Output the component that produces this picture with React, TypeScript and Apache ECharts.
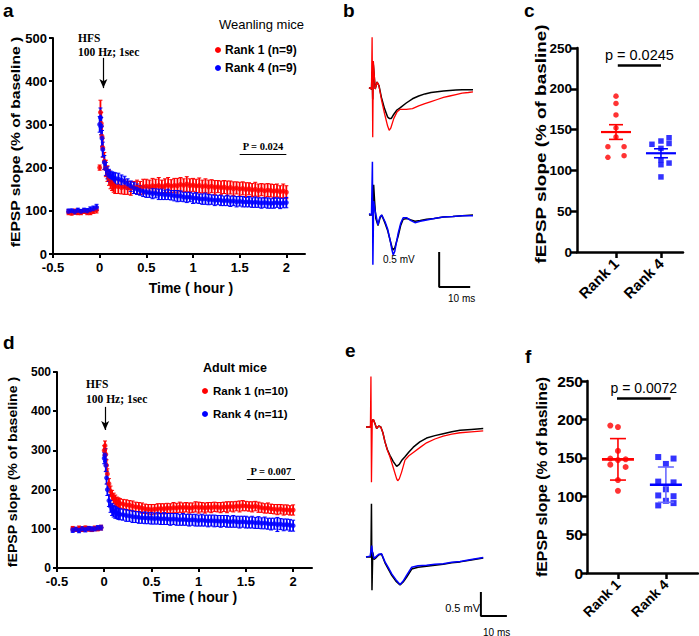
import React, { useEffect, useRef } from 'react';
import * as echarts from 'echarts';

const SANS = '"Liberation Sans", Arial, sans-serif';
const SERIF = '"Liberation Serif", "Times New Roman", serif';
const RED = '#ff0000';
const BLUE = '#0000ff';
const BLACK = '#000000';

// ---------- time-course panels (a, d) ----------
const HOUR_TICKS = [-0.5, 0, 0.5, 1, 1.5, 2];
const TIME_MIN = [
  -20, -18, -16, -14, -12, -10, -8, -6, -4, -2,
  0, 0.5, 1, 1.5, 2, 3, 4, 5, 6, 7, 8, 9, 10,
  12, 14, 16, 18, 20, 22, 24, 26, 28, 30,
  32, 34, 36, 38, 40, 42, 44, 46, 48, 50,
  52, 54, 56, 58, 60, 62, 64, 66, 68, 70,
  72, 74, 76, 78, 80, 82, 84, 86, 88, 90,
  92, 94, 96, 98, 100, 102, 104, 106, 108, 110,
  112, 114, 116, 118, 120,
];
const A_RANK1 = [
  97, 95, 98, 96, 97, 99, 97, 96, 100, 102,
  200, 328, 302, 272, 246, 215, 198, 186, 176, 168, 163, 159, 156,
  156, 154, 155, 153, 152, 154, 155, 153, 156, 157,
  156, 158, 157, 159, 156, 158, 160, 157, 159, 158,
  161, 159, 162, 158, 160, 157, 159, 156, 158, 155,
  157, 154, 156, 153, 155, 152, 154, 151, 153, 150,
  152, 149, 151, 148, 150, 147, 149, 146, 148, 147,
  145, 147, 144, 146, 143,
];
const A_RANK1_ERR = [
  6, 5, 6, 5, 6, 5, 6, 5, 6, 7,
  6, 28, 26, 24, 22, 20, 19, 18, 17, 17, 16, 16, 16,
  16, 15, 17, 15, 16, 14, 16, 15, 17, 16,
  15, 17, 16, 18, 15, 16, 17, 15, 16, 17,
  16, 15, 17, 16, 15, 16, 17, 15, 16, 16,
  15, 16, 14, 16, 15, 17, 15, 16, 14, 16,
  15, 16, 14, 15, 16, 15, 14, 16, 15, 15,
  16, 15, 14, 16, 15,
];
const A_RANK4 = [
  99, 100, 98, 101, 99, 101, 100, 103, 105, 108,
  300, 316, 296, 268, 242, 212, 197, 188, 182, 179, 177, 176, 175,
  174, 171, 167, 162, 157, 153, 150, 147, 145, 143,
  142, 140, 141, 138, 139, 137, 138, 136, 135, 134,
  134, 132, 131, 132, 129, 130, 128, 127, 128, 126,
  126, 124, 125, 124, 123, 124, 122, 123, 121, 122,
  121, 120, 121, 119, 120, 119, 118, 119, 118, 117,
  118, 119, 117, 118, 119,
];
const A_RANK4_ERR = [
  5, 4, 5, 5, 4, 5, 5, 6, 6, 7,
  18, 22, 20, 18, 17, 16, 15, 14, 14, 13, 13, 13, 13,
  13, 12, 13, 12, 12, 13, 12, 11, 12, 12,
  11, 12, 11, 12, 13, 11, 12, 11, 12, 13,
  12, 11, 12, 11, 12, 12, 11, 12, 13, 12,
  11, 12, 11, 12, 11, 12, 12, 11, 12, 11,
  12, 11, 12, 11, 12, 11, 12, 11, 12, 11,
  12, 11, 12, 11, 12,
];
const D_RANK1 = [
  100, 98, 101, 99, 102, 100, 98, 101, 100, 103,
  300, 312, 290, 262, 240, 215, 196, 185, 178, 173, 169, 167, 165,
  163, 161, 160, 158, 156, 155, 153, 151, 150, 149,
  150, 151, 152, 151, 153, 152, 154, 153, 155, 154,
  155, 153, 154, 156, 154, 155, 153, 155, 154, 156,
  155, 154, 156, 155, 157, 156, 158, 157, 159, 158,
  157, 156, 158, 155, 154, 152, 153, 151, 150, 149,
  150, 148, 149, 147, 148,
];
const D_RANK1_ERR = [
  6, 5, 6, 6, 5, 6, 5, 6, 5, 6,
  12, 12, 14, 14, 13, 13, 13, 13, 13, 13, 12, 12, 12,
  12, 13, 12, 13, 12, 12, 13, 12, 12, 13,
  12, 13, 12, 13, 12, 12, 13, 12, 13, 12,
  12, 13, 12, 13, 14, 12, 13, 12, 13, 12,
  12, 13, 12, 14, 12, 13, 12, 14, 13, 12,
  12, 13, 12, 13, 12, 12, 13, 12, 12, 13,
  12, 13, 12, 12, 13,
];
const D_RANK4 = [
  97, 99, 96, 100, 98, 101, 99, 100, 102, 103,
  280, 288, 262, 230, 200, 172, 157, 149, 145, 142, 140, 138, 137,
  136, 134, 133, 131, 130, 129, 128, 128, 127, 127,
  126, 127, 125, 126, 125, 124, 125, 124, 123, 124,
  123, 122, 123, 122, 121, 122, 121, 120, 121, 120,
  120, 119, 120, 119, 118, 119, 118, 117, 118, 117,
  116, 117, 115, 116, 114, 115, 113, 112, 113, 111,
  112, 110, 111, 109, 108,
];
const D_RANK4_ERR = [
  6, 5, 6, 5, 6, 5, 6, 5, 6, 6,
  14, 16, 16, 16, 15, 15, 15, 15, 15, 15, 14, 14, 14,
  14, 15, 14, 15, 14, 15, 14, 15, 14, 15,
  14, 15, 14, 15, 14, 15, 14, 15, 14, 15,
  14, 15, 14, 15, 14, 15, 14, 15, 14, 15,
  14, 15, 14, 15, 14, 15, 14, 15, 14, 15,
  14, 15, 14, 15, 14, 15, 14, 15, 14, 18,
  14, 15, 14, 15, 14,
];

// ---------- example traces (b, e): [ms, mV] ----------
const B_TOP_BLACK = [[0, 0.02], [0.8, 0], [1.0, 0.25], [1.2, -0.15], [1.4, 0.35], [2.0, 0], [2.6, 0.1], [3.2, 0.05], [4, -0.12], [5, -0.28], [6, -0.4], [6.5, -0.42], [7.2, -0.42], [8, -0.36], [9, -0.3], [10, -0.27], [12, -0.2], [14, -0.14], [16, -0.1], [18, -0.07], [20, -0.05], [22, -0.04], [24, -0.03], [26, -0.02], [28, -0.015], [30, -0.01], [32, -0.01], [33.5, -0.01]];
const B_TOP_RED = [[0, 0.02], [0.8, 0], [1.0, 0.74], [1.2, -0.69], [1.4, 0.4], [2.0, 0], [2.6, 0.1], [3.2, 0.05], [4, -0.15], [5, -0.35], [6, -0.53], [6.5, -0.59], [7, -0.56], [8, -0.42], [9, -0.33], [10, -0.29], [12, -0.29], [14, -0.28], [16, -0.24], [18, -0.21], [20, -0.18], [22, -0.15], [24, -0.12], [26, -0.1], [28, -0.08], [30, -0.06], [32, -0.05], [33.5, -0.04]];
const B_BOT_BLACK = [[0, 0], [0.8, 0], [1.2, 0.1], [1.5, 0.43], [1.8, 0.2], [2.2, -0.05], [2.9, -0.15], [3.5, -0.05], [4.1, 0], [5.2, -0.12], [6, -0.22], [6.8, -0.36], [7.4, -0.46], [7.8, -0.5], [8.3, -0.47], [9.4, -0.3], [10.2, -0.15], [11, -0.06], [12.2, -0.05], [13.5, -0.07], [14.8, -0.09], [16.5, -0.08], [18.6, -0.06], [21, -0.05], [23.9, -0.03], [27, -0.02], [30, -0.01], [33.5, 0]];
const B_BOT_BLUE = [[0, 0.02], [0.8, 0], [1.1, 0.76], [1.25, -0.71], [1.5, 0.2], [2.0, 0.05], [2.9, -0.14], [3.5, -0.03], [4.1, 0], [5.2, -0.1], [6, -0.2], [6.8, -0.36], [7.4, -0.5], [7.8, -0.57], [8.3, -0.52], [9.4, -0.26], [10.2, -0.12], [11, -0.04], [12.2, -0.04], [13.5, -0.08], [14.8, -0.11], [16.5, -0.09], [18.6, -0.07], [21, -0.05], [23.9, -0.03], [27, -0.02], [30, -0.01], [33.5, -0.01]];

const E_TOP_BLACK = [[0, 0], [1.7, 0], [2.0, 0.1], [2.8, 0.16], [3.4, 0.08], [4.1, -0.03], [4.9, 0.02], [5.7, 0], [6.5, -0.12], [7.3, -0.31], [8.2, -0.47], [9.2, -0.59], [10.5, -0.72], [11.8, -0.82], [12.8, -0.78], [13.7, -0.7], [15, -0.62], [16.5, -0.52], [18.2, -0.42], [20.7, -0.31], [23.3, -0.23], [26.5, -0.18], [29.7, -0.14], [33, -0.1], [36.2, -0.07], [40.5, -0.05], [45.1, -0.03]];
const E_TOP_RED = [[0, 0], [1.7, 0], [1.9, 1.05], [2.1, -1.15], [2.4, 0.1], [2.8, 0.16], [3.4, 0.08], [4.1, -0.03], [4.9, 0.02], [5.7, 0], [6.5, -0.12], [7.3, -0.31], [8.2, -0.48], [9.2, -0.62], [10.5, -0.85], [11.8, -1.08], [12.2, -1.12], [12.8, -1.08], [13.7, -0.94], [15, -0.69], [16.5, -0.6], [18.2, -0.53], [20.7, -0.43], [23.3, -0.33], [26.5, -0.25], [29.7, -0.19], [33, -0.15], [36.2, -0.12], [40.5, -0.1], [45.1, -0.08]];
const E_BOT_BLACK = [[0, 0], [1.9, 0], [2.1, 1.11], [2.3, -0.69], [2.6, 0.1], [3.1, -0.05], [4.1, 0], [5.0, 0.05], [6.0, 0.06], [7.3, -0.12], [8.6, -0.25], [9.9, -0.38], [11.5, -0.5], [13.1, -0.58], [14.3, -0.52], [15.6, -0.42], [17.6, -0.25], [20, -0.21], [23.3, -0.19], [26.5, -0.17], [29.7, -0.15], [33, -0.12], [36.2, -0.1], [40.5, -0.06], [45.1, -0.02]];
const E_BOT_BLUE = [[0, 0], [1.6, 0.02], [2.2, 0.24], [2.6, 0.05], [3.1, -0.03], [4.1, 0.02], [5.0, 0.06], [6.0, 0.07], [7.3, -0.1], [8.6, -0.22], [9.9, -0.35], [11.5, -0.47], [13.1, -0.57], [14.3, -0.5], [15.6, -0.38], [17.6, -0.21], [20, -0.18], [23.3, -0.17], [26.5, -0.15], [29.7, -0.14], [33, -0.11], [36.2, -0.09], [40.5, -0.05], [45.1, -0.01]];

const SCALE_MS = 10;
const SCALE_MV = 0.5;

// ---------- scatter panels (c, f) ----------
const RANKS = ['Rank 1', 'Rank 4'];
const C_RANK1 = [191, 182, 168, 152, 141, 129, 129, 116, 118];
const C_RANK1_POS = [1, 1, 1, 1, 1, 0.82, 1.18, 0.82, 1.18];
const C_RANK4 = [132, 136, 140, 133, 127, 113, 107, 109, 92];
const C_RANK4_POS = [1.8, 2, 2.18, 2.18, 2, 2, 2, 2.18, 2];
const C_MEAN = [147, 121];
const C_SEM = [9, 5.5];

const F_RANK1 = [192, 190, 159, 149, 147, 148, 141, 138, 121, 107];
const F_RANK1_POS = [0.84, 1, 1, 0.84, 1, 1.16, 0.84, 1.16, 1, 1];
const F_RANK4 = [151, 149, 142, 119, 118, 109, 101, 100, 94, 88, 91];
const F_RANK4_POS = [1.84, 2.16, 2, 1.84, 2.16, 2, 1.84, 2.16, 2, 1.84, 2.16];
const F_MEAN = [148, 115];
const F_SD = [27, 23];

// ---------- helpers ----------
const errBarRender = (color: string) => (params: any, api: any) => {
  const x = api.value(0);
  const y = api.value(1);
  const e = api.value(2);
  const p1 = api.coord([x, y + e]);
  const p2 = api.coord([x, y - e]);
  const c = 2;
  const st = { stroke: color, lineWidth: 1.8 };
  const sc = { stroke: color, lineWidth: 1 };
  return {
    type: 'group',
    children: [
      { type: 'line', shape: { x1: p1[0], y1: p1[1], x2: p2[0], y2: p2[1] }, style: st },
      { type: 'line', shape: { x1: p1[0] - c, y1: p1[1], x2: p1[0] + c, y2: p1[1] }, style: sc },
      { type: 'line', shape: { x1: p2[0] - c, y1: p2[1], x2: p2[0] + c, y2: p2[1] }, style: sc },
    ],
  };
};

const meanErrRender = (colors: string[], errColors: string[], half: number, cap: number, meanW: number) => (params: any, api: any) => {
  const x = api.value(0);
  const m = api.value(1);
  const e = api.value(2);
  const pm = api.coord([x, m]);
  const pt = api.coord([x, m + e]);
  const pb = api.coord([x, m - e]);
  const col = colors[params.dataIndex];
  const ec = errColors[params.dataIndex];
  return {
    type: 'group',
    children: [
      { type: 'line', shape: { x1: pt[0], y1: pt[1], x2: pb[0], y2: pb[1] }, style: { stroke: ec, lineWidth: 1.6 } },
      { type: 'line', shape: { x1: pt[0] - cap, y1: pt[1], x2: pt[0] + cap, y2: pt[1] }, style: { stroke: ec, lineWidth: 1.6 } },
      { type: 'line', shape: { x1: pb[0] - cap, y1: pb[1], x2: pb[0] + cap, y2: pb[1] }, style: { stroke: ec, lineWidth: 1.6 } },
      { type: 'line', shape: { x1: pm[0] - half, y1: pm[1], x2: pm[0] + half, y2: pm[1] }, style: { stroke: col, lineWidth: meanW } },
    ],
  };
};

function timeSeries(name: string, vals: number[], errs: number[], color: string, gi: number, markLine?: any) {
  const scatter: any = {
    type: 'scatter',
    name,
    xAxisIndex: gi,
    yAxisIndex: gi,
    data: TIME_MIN.map((m, i) => [m / 60, vals[i]]),
    symbol: 'circle',
    symbolSize: 5,
    itemStyle: { color },
    z: 3,
  };
  if (markLine) scatter.markLine = markLine;
  const err = {
    type: 'custom',
    name,
    xAxisIndex: gi,
    yAxisIndex: gi,
    data: TIME_MIN.map((m, i) => [m / 60, vals[i], errs[i]]),
    encode: { x: 0, y: 1 },
    renderItem: errBarRender(color),
    itemStyle: { color },
    z: 2,
  };
  return [err, scatter];
}

function traceSeries(pts: number[][], offset: number, color: string, gi: number, width = 1.3) {
  return {
    type: 'line',
    xAxisIndex: gi,
    yAxisIndex: gi,
    data: pts.map((p) => [p[0], p[1] + offset]),
    showSymbol: false,
    symbol: 'none',
    lineStyle: { color, width },
    silent: true,
    z: 3,
  };
}

function scaleBar(anchor: number[], gi: number) {
  return {
    type: 'line',
    xAxisIndex: gi,
    yAxisIndex: gi,
    data: [
      [anchor[0], anchor[1]],
      [anchor[0], anchor[1] - SCALE_MV],
      [anchor[0] + SCALE_MS, anchor[1] - SCALE_MV],
    ],
    showSymbol: false,
    symbol: 'none',
    lineStyle: { color: BLACK, width: 2 },
    silent: true,
  };
}

const timeXAxis = (gi: number) => ({
  gridIndex: gi,
  type: 'value',
  min: -0.5,
  max: 2.2,
  axisLine: { onZero: false, lineStyle: { color: BLACK, width: 2 } },
  axisTick: { show: true, customValues: HOUR_TICKS, length: 4, lineStyle: { color: BLACK, width: 2 } },
  axisLabel: { customValues: HOUR_TICKS, color: BLACK, fontWeight: 'bold', fontSize: 13, fontFamily: SANS, margin: 7 },
  splitLine: { show: false },
});
const timeYAxis = (gi: number, fs: number) => ({
  gridIndex: gi,
  type: 'value',
  min: 0,
  max: 500,
  interval: 100,
  axisLine: { show: true, onZero: false, lineStyle: { color: BLACK, width: 2 } },
  axisTick: { show: true, length: 4, lineStyle: { color: BLACK, width: 2 } },
  axisLabel: { color: BLACK, fontWeight: 'bold', fontSize: fs, fontFamily: SANS, margin: 6 },
  splitLine: { show: false },
});
const rankXAxis = (gi: number, min: number, max: number, fs: number) => ({
  gridIndex: gi,
  type: 'value',
  min,
  max,
  axisLine: { onZero: false, lineStyle: { color: BLACK, width: 2.5 } },
  axisTick: { show: true, customValues: [1, 2], length: 6, lineStyle: { color: BLACK, width: 2.5 } },
  axisLabel: {
    customValues: [1, 2],
    formatter: (v: number) => RANKS[Math.round(v) - 1],
    rotate: 45,
    color: BLACK,
    fontWeight: 'bold',
    fontSize: fs,
    fontFamily: SANS,
    margin: 9,
  },
  splitLine: { show: false },
});
const rankYAxis = (gi: number, fs: number, margin: number) => ({
  gridIndex: gi,
  type: 'value',
  min: 0,
  max: 250,
  interval: 50,
  axisLine: { show: true, onZero: false, lineStyle: { color: BLACK, width: 2.5 } },
  axisTick: { show: true, length: 6, lineStyle: { color: BLACK, width: 2.5 } },
  axisLabel: { color: BLACK, fontWeight: 'bold', fontSize: fs, fontFamily: SANS, margin },
  splitLine: { show: false },
});
const hiddenAxis = (gi: number, min: number, max: number) => ({
  gridIndex: gi,
  type: 'value',
  min,
  max,
  show: false,
});

const txt = (text: string, x: number, y: number, font: any, extra: any = {}) => ({
  type: 'text',
  x,
  y,
  silent: true,
  ...extra,
  style: {
    text,
    fill: BLACK,
    fontFamily: SANS,
    align: 'left',
    verticalAlign: 'middle',
    ...font,
  },
});

const sigLine = (x1: number, x2: number, y: number, label: string, font: any, dist: number, width: number) => ({
  silent: true,
  symbol: 'none',
  animation: false,
  data: [
    [
      {
        coord: [x1, y],
        lineStyle: { color: BLACK, width, type: 'solid' },
        label: { show: true, position: 'middle', formatter: label, color: BLACK, distance: dist, ...font },
      },
      { coord: [x2, y] },
    ],
  ],
});

const arrowAndSig = (xArrow: number, yTop: number, yBot: number, x1: number, x2: number, ySig: number, label: string) => ({
  silent: true,
  animation: false,
  data: [
    [
      { coord: [xArrow, yTop], symbol: 'none', lineStyle: { color: BLACK, width: 1.2, type: 'solid' }, label: { show: false } },
      { coord: [xArrow, yBot], symbol: 'arrow', symbolSize: [6, 9] },
    ],
    [
      {
        coord: [x1, ySig],
        symbol: 'none',
        lineStyle: { color: BLACK, width: 1.2, type: 'solid' },
        label: { show: true, position: 'middle', formatter: label, color: BLACK, distance: 2, fontFamily: SERIF, fontWeight: 'bold', fontSize: 10.5 },
      },
      { coord: [x2, ySig], symbol: 'none' },
    ],
  ],
});

export default function App() {
  const ref = useRef<HTMLDivElement>(null);
  useEffect(() => {
    if (!ref.current) return;
    const chart = echarts.init(ref.current, undefined, { renderer: 'svg' });
    const option: any = {
      animation: false,
      backgroundColor: '#ffffff',
      grid: [
        { left: 53, top: 38, width: 252, height: 216 },
        { left: 369, top: 26, width: 104, height: 280 },
        { left: 577, top: 48, width: 106, height: 204 },
        { left: 57, top: 372, width: 255, height: 196 },
        { left: 366, top: 369.4, width: 144, height: 252 },
        { left: 587, top: 381, width: 111, height: 192 },
      ],
      xAxis: [
        timeXAxis(0),
        hiddenAxis(1, 0, 33.5),
        rankXAxis(2, 0.133, 2.49, 15),
        timeXAxis(3),
        hiddenAxis(4, 0, 55.4),
        rankXAxis(5, 0.354, 2.67, 14),
      ],
      yAxis: [
        timeYAxis(0, 13),
        hiddenAxis(1, -3.1, 0.9),
        rankYAxis(2, 13.5, 5),
        timeYAxis(3, 12),
        hiddenAxis(4, -4.05, 1.2),
        rankYAxis(5, 15.5, 4),
      ],
      legend: [
        {
          left: 215,
          top: 44,
          orient: 'vertical',
          padding: 0,
          itemWidth: 6,
          itemHeight: 6,
          itemGap: 6,
          selectedMode: false,
          data: [
            { name: 'Rank 1 (n=9)', icon: 'circle' },
            { name: 'Rank 4 (n=9)', icon: 'circle' },
          ],
          textStyle: { color: BLACK, fontWeight: 'bold', fontSize: 12, fontFamily: SANS, padding: [0, 0, 0, -1] },
        },
        {
          left: 202,
          top: 385,
          orient: 'vertical',
          padding: 0,
          itemWidth: 6,
          itemHeight: 6,
          itemGap: 11,
          selectedMode: false,
          data: [
            { name: 'Rank 1 (n=10)', icon: 'circle' },
            { name: 'Rank 4 (n=11)', icon: 'circle' },
          ],
          textStyle: { color: BLACK, fontWeight: 'bold', fontSize: 11.5, fontFamily: SANS },
        },
      ],
      series: [
        ...timeSeries('Rank 1 (n=9)', A_RANK1, A_RANK1_ERR, RED, 0, arrowAndSig(0.04, 454, 384, 1.5, 2.0, 231, 'P = 0.024')),
        ...timeSeries('Rank 4 (n=9)', A_RANK4, A_RANK4_ERR, BLUE, 0),
        ...timeSeries('Rank 1 (n=10)', D_RANK1, D_RANK1_ERR, RED, 3, arrowAndSig(0.01, 411, 352, 1.51, 2.02, 227, 'P = 0.007')),
        ...timeSeries('Rank 4 (n=11)', D_RANK4, D_RANK4_ERR, BLUE, 3),

        traceSeries(B_TOP_BLACK, 0, BLACK, 1, 1.5),
        traceSeries(B_TOP_RED, 0, RED, 1, 1.3),
        traceSeries(B_BOT_BLACK, -1.8, BLACK, 1, 1.5),
        traceSeries(B_BOT_BLUE, -1.8, BLUE, 1, 1.5),
        scaleBar([22.6, -2.33], 1),

        traceSeries(E_TOP_BLACK, 0, BLACK, 4, 1.5),
        traceSeries(E_TOP_RED, 0, RED, 4, 1.3),
        traceSeries(E_BOT_BLACK, -2.71, BLACK, 4, 1.5),
        traceSeries(E_BOT_BLUE, -2.71, BLUE, 4, 1.5),
        scaleBar([44.2, -3.44], 4),

        {
          type: 'scatter',
          name: 'c Rank 1',
          xAxisIndex: 2,
          yAxisIndex: 2,
          data: C_RANK1.map((v, i) => [C_RANK1_POS[i], v]),
          symbol: 'circle',
          symbolSize: 5.5,
          itemStyle: { color: RED },
          markLine: sigLine(1.04, 2.0, 229, 'p = 0.0245', { fontFamily: SANS, fontSize: 14.5 }, 3, 2.5),
        },
        {
          type: 'scatter',
          name: 'c Rank 4',
          xAxisIndex: 2,
          yAxisIndex: 2,
          data: C_RANK4.map((v, i) => [C_RANK4_POS[i], v]),
          symbol: 'rect',
          symbolSize: 5.5,
          itemStyle: { color: BLUE },
        },
        {
          type: 'custom',
          xAxisIndex: 2,
          yAxisIndex: 2,
          data: C_MEAN.map((m, i) => [i + 1, m, C_SEM[i]]),
          encode: { x: 0, y: 1 },
          renderItem: meanErrRender([RED, BLUE], [RED, BLUE], 15, 7, 2.2),
          z: 4,
        },
        {
          type: 'scatter',
          name: 'f Rank 1',
          xAxisIndex: 5,
          yAxisIndex: 5,
          data: F_RANK1.map((v, i) => [F_RANK1_POS[i], v]),
          symbol: 'circle',
          symbolSize: 6,
          itemStyle: { color: RED },
          markLine: sigLine(0.98, 2.1, 228, 'p = 0.0072', { fontFamily: SANS, fontSize: 14 }, 3, 2.5),
        },
        {
          type: 'scatter',
          name: 'f Rank 4',
          xAxisIndex: 5,
          yAxisIndex: 5,
          data: F_RANK4.map((v, i) => [F_RANK4_POS[i], v]),
          symbol: 'rect',
          symbolSize: 6,
          itemStyle: { color: BLUE },
        },
        {
          type: 'custom',
          xAxisIndex: 5,
          yAxisIndex: 5,
          data: F_MEAN.map((m, i) => [i + 1, m, F_SD[i]]),
          encode: { x: 0, y: 1 },
          renderItem: meanErrRender([RED, BLUE], [RED, '#6b6bff'], 16, 8, 2.6),
          z: 4,
        },
      ],
      graphic: [
        txt('a', 3, 10.5, { fontSize: 19, fontWeight: 'bold' }),
        txt('b', 343, 10.5, { fontSize: 19, fontWeight: 'bold' }),
        txt('c', 524, 10.5, { fontSize: 19, fontWeight: 'bold' }),
        txt('d', 3, 342.5, { fontSize: 19, fontWeight: 'bold' }),
        txt('e', 345, 350.5, { fontSize: 19, fontWeight: 'bold' }),
        txt('f', 525, 356.5, { fontSize: 19, fontWeight: 'bold' }),

        txt('Weanling mice', 219, 24, { fontSize: 13 }),
        txt('Adult mice', 203, 368, { fontSize: 12.5, fontWeight: 'bold' }),

        txt('HFS', 78, 38, { fontSize: 11.5, fontWeight: 'bold', fontFamily: SERIF }),
        txt('100 Hz; 1sec', 78, 52, { fontSize: 11.5, fontWeight: 'bold', fontFamily: SERIF }),
        txt('HFS', 86, 384, { fontSize: 11.5, fontWeight: 'bold', fontFamily: SERIF }),
        txt('100 Hz; 1sec', 86, 399, { fontSize: 11.5, fontWeight: 'bold', fontFamily: SERIF }),

        txt('Time ( hour )', 191, 287.5, { fontSize: 14, fontWeight: 'bold', align: 'center' }),
        txt('Time ( hour )', 195, 597, { fontSize: 14, fontWeight: 'bold', align: 'center' }),
        txt('fEPSP slope (% of baseline )', 15.5, 142, { fontSize: 12.5, fontWeight: 'bold', align: 'center' }, { rotation: Math.PI / 2, scaleX: 1.25 }),
        txt('fEPSP slope (% of baseline )', 12.5, 472, { fontSize: 12.5, fontWeight: 'bold', align: 'center' }, { rotation: Math.PI / 2, scaleX: 1.13 }),
        txt('fEPSP slope (% of basline)', 541.5, 144, { fontSize: 14, fontWeight: 'bold', align: 'center' }, { rotation: Math.PI / 2, scaleX: 1.35 }),
        txt('fEPSP slope (% of basline)', 541.5, 477, { fontSize: 14, fontWeight: 'bold', align: 'center' }, { rotation: Math.PI / 2, scaleX: 1.13 }),

        txt('0.5 mV', 383, 259, { fontSize: 10 }),
        txt('10 ms', 448, 298, { fontSize: 10 }),
        txt('0.5 mV', 480, 608, { fontSize: 11, align: 'right' }),
        txt('10 ms', 483, 632, { fontSize: 10 }),
      ],
    };
    chart.setOption(option);
    return () => chart.dispose();
  }, []);
  return (
    <div
      ref={ref}
      style={{ position: 'fixed', left: 0, top: 0, width: 699, height: 636, background: '#fff' }}
    />
  );
}
